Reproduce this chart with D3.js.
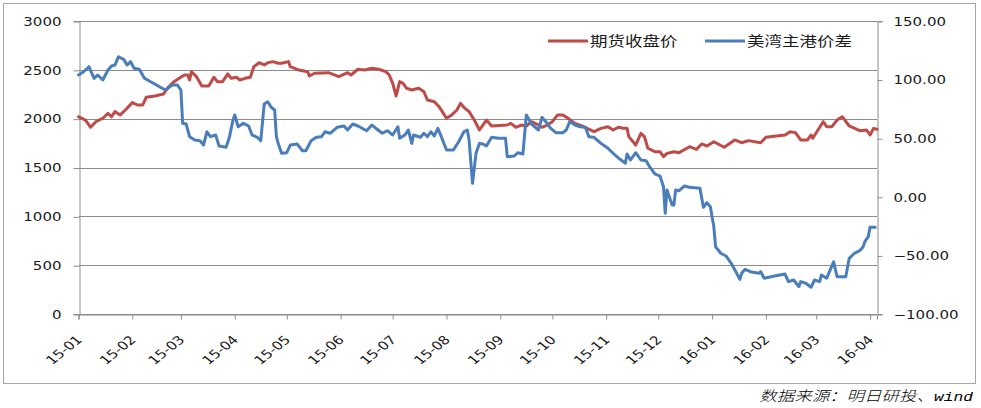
<!DOCTYPE html>
<html><head><meta charset="utf-8">
<script src="https://cdn.jsdelivr.net/npm/d3@7"></script>
<style>body{margin:0;background:#fff} svg{display:block}</style>
</head><body><svg id="c" width="981" height="408"></svg>
<script>
// ---- data ----
const seriesNames = ["期货收盘价", "美湾主港价差"];
const futuresDates = ["2015-01-01","2015-01-05","2015-01-08","2015-01-11","2015-01-15","2015-01-18","2015-01-20","2015-01-22","2015-01-25","2015-01-28","2015-02-01","2015-02-04","2015-02-07","2015-02-09","2015-02-14","2015-02-19","2015-02-22","2015-02-25","2015-02-28","2015-03-03","2015-03-05","2015-03-06","2015-03-07","2015-03-10","2015-03-13","2015-03-17","2015-03-20","2015-03-22","2015-03-25","2015-03-28","2015-03-30","2015-04-02","2015-04-04","2015-04-07","2015-04-10","2015-04-12","2015-04-15","2015-04-18","2015-04-20","2015-04-23","2015-04-26","2015-04-28","2015-05-02","2015-05-03","2015-05-08","2015-05-13","2015-05-14","2015-05-17","2015-05-25","2015-05-31","2015-06-05","2015-06-07","2015-06-11","2015-06-15","2015-06-19","2015-06-23","2015-06-27","2015-06-29","2015-07-01","2015-07-03","2015-07-05","2015-07-07","2015-07-09","2015-07-12","2015-07-16","2015-07-19","2015-07-21","2015-07-25","2015-07-28","2015-08-01","2015-08-04","2015-08-07","2015-08-09","2015-08-11","2015-08-14","2015-08-17","2015-08-20","2015-08-24","2015-08-27","2015-09-05","2015-09-07","2015-09-10","2015-09-13","2015-09-16","2015-09-19","2015-09-22","2015-09-25","2015-09-28","2015-10-01","2015-10-04","2015-10-07","2015-10-10","2015-10-14","2015-10-18","2015-10-21","2015-10-25","2015-10-29","2015-11-02","2015-11-05","2015-11-08","2015-11-11","2015-11-13","2015-11-14","2015-11-18","2015-11-21","2015-11-23","2015-11-25","2015-11-29","2015-12-02","2015-12-04","2015-12-06","2015-12-10","2015-12-13","2015-12-19","2015-12-23","2015-12-26","2015-12-29","2016-01-02","2016-01-08","2016-01-14","2016-01-18","2016-01-22","2016-01-29","2016-02-01","2016-02-12","2016-02-15","2016-02-18","2016-02-21","2016-02-25","2016-02-27","2016-02-28","2016-03-02","2016-03-05","2016-03-07","2016-03-10","2016-03-13","2016-03-16","2016-03-20","2016-03-26","2016-03-30","2016-04-01","2016-04-03","2016-04-05"];
const futuresValues = [2020,1986,1912,1969,2004,2055,2020,2072,2038,2089,2164,2140,2140,2219,2232,2253,2327,2379,2413,2447,2447,2396,2481,2430,2335,2335,2424,2379,2379,2458,2413,2424,2396,2413,2424,2532,2573,2550,2573,2584,2567,2567,2584,2532,2498,2481,2437,2465,2471,2430,2471,2447,2506,2498,2516,2506,2481,2447,2362,2232,2379,2362,2311,2294,2311,2276,2191,2174,2116,2004,2038,2089,2157,2116,2072,1986,1884,1986,1925,1935,1952,1912,1935,1925,1969,1945,1912,1935,1969,2038,2038,2004,1952,1925,1901,1867,1901,1918,1884,1912,1901,1901,1816,1730,1850,1816,1697,1662,1662,1611,1645,1662,1652,1713,1686,1741,1720,1764,1707,1782,1754,1775,1754,1809,1833,1867,1857,1782,1782,1833,1799,1884,1969,1918,1918,1986,2020,1925,1877,1884,1833,1901,1891];

const spreadDates = ["2015-01-01","2015-01-04","2015-01-07","2015-01-10","2015-01-12","2015-01-15","2015-01-18","2015-01-20","2015-01-22","2015-01-24","2015-01-27","2015-01-29","2015-01-31","2015-02-02","2015-02-05","2015-02-08","2015-02-20","2015-02-24","2015-02-27","2015-03-01","2015-03-02","2015-03-04","2015-03-06","2015-03-09","2015-03-12","2015-03-14","2015-03-16","2015-03-18","2015-03-21","2015-03-23","2015-03-27","2015-03-29","2015-03-31","2015-04-01","2015-04-03","2015-04-06","2015-04-09","2015-04-11","2015-04-14","2015-04-16","2015-04-18","2015-04-20","2015-04-22","2015-04-24","2015-04-25","2015-04-26","2015-04-28","2015-05-01","2015-05-03","2015-05-07","2015-05-10","2015-05-12","2015-05-15","2015-05-18","2015-05-21","2015-05-23","2015-05-26","2015-05-30","2015-06-03","2015-06-05","2015-06-08","2015-06-11","2015-06-16","2015-06-19","2015-06-22","2015-06-25","2015-06-28","2015-07-01","2015-07-04","2015-07-05","2015-07-08","2015-07-10","2015-07-12","2015-07-13","2015-07-17","2015-07-19","2015-07-21","2015-07-23","2015-07-25","2015-07-27","2015-07-29","2015-08-01","2015-08-05","2015-08-08","2015-08-11","2015-08-13","2015-08-14","2015-08-16","2015-08-18","2015-08-20","2015-08-22","2015-08-24","2015-08-27","2015-08-31","2015-09-04","2015-09-05","2015-09-09","2015-09-11","2015-09-14","2015-09-16","2015-09-19","2015-09-23","2015-09-25","2015-09-28","2015-09-30","2015-10-03","2015-10-07","2015-10-09","2015-10-11","2015-10-14","2015-10-17","2015-10-20","2015-10-22","2015-10-25","2015-10-29","2015-11-02","2015-11-06","2015-11-09","2015-11-12","2015-11-13","2015-11-15","2015-11-18","2015-11-21","2015-11-24","2015-11-26","2015-11-29","2015-12-02","2015-12-04","2015-12-05","2015-12-06","2015-12-09","2015-12-10","2015-12-11","2015-12-13","2015-12-16","2015-12-19","2015-12-25","2015-12-27","2015-12-29","2015-12-31","2016-01-02","2016-01-03","2016-01-06","2016-01-09","2016-01-12","2016-01-15","2016-01-17","2016-01-18","2016-01-20","2016-01-23","2016-01-28","2016-01-29","2016-01-31","2016-02-06","2016-02-12","2016-02-14","2016-02-17","2016-02-20","2016-02-21","2016-02-24","2016-02-27","2016-02-29","2016-03-03","2016-03-04","2016-03-07","2016-03-09","2016-03-11","2016-03-13","2016-03-18","2016-03-20","2016-03-23","2016-03-26","2016-03-28","2016-03-29","2016-03-31","2016-04-01","2016-04-04"];
const spreadValues = [103.9,106.7,111,101.1,103.9,99.7,108.2,111.6,112.4,119.5,117.3,112.4,115.3,109.6,108.8,101.1,91.1,95.4,95.4,91.1,62.7,62.1,51.3,48.5,47.9,44.2,55.5,51.3,52.7,43.3,42.2,51.3,65.5,69.8,59.8,62.7,60.4,52.7,50.8,47.9,79.2,81.1,76.4,74.1,51.3,45.6,37.1,37.6,44.2,45,39.3,39.3,47.9,50.8,51.3,55.5,54.2,59.3,60.4,57,62.1,60.4,56.4,61.3,57.6,54.2,56.4,52.7,59.8,49.9,52.7,57,45.6,52.7,50.8,54.2,51.3,55.5,51.9,58.4,51.3,39.9,39.9,47,55.5,57,48.5,11.5,37.1,45.6,45,43.3,50.8,49.9,49.9,34.2,34.8,37.6,36.5,69.8,62.1,57,67.8,62.7,58.4,54.7,54.7,57,64.1,61.3,59.8,59.3,51.3,50.8,45.6,41.4,35.7,32,28.6,36.5,31.4,37.6,31.4,30.8,25.7,19.5,17.7,8.6,-14.1,5.8,-7,-7,5.8,5.2,9.2,8.1,7.2,-9,-5,-8.5,-25.5,-42.6,-48.2,-50.5,-56.7,-64.8,-70.4,-65.3,-61.9,-63.9,-65.3,-63.9,-69.5,-67.6,-65.9,-72.4,-71,-76.7,-72.4,-73.8,-77.2,-71,-72.4,-66.7,-69.5,-62.5,-55.4,-68.2,-68.2,-52.5,-48.2,-46,-42.6,-38.3,-34,-26,-26];

const leftTicks = [0, 500, 1000, 1500, 2000, 2500, 3000];
const rightTicks = [-100, -50, 0, 50, 100, 150];
const monthTicks = ["2015-01-01","2015-02-01","2015-03-01","2015-04-01","2015-05-01","2015-06-01","2015-07-01","2015-08-01","2015-09-01","2015-10-01","2015-11-01","2015-12-01","2016-01-01","2016-02-01","2016-03-01","2016-04-01"];
const xDomain = ["2015-01-01", "2016-04-05"];
const sourceTextCJK = "数据来源：明日研投、";
const sourceTextLatin = "wind";

// ---- drawing ----
const parse = d3.timeParse("%Y-%m-%d");
const svg = d3.select("#c");
const L = 79, R = 877, T = 21, B = 314;
const SX = 1.25;
const gridColor = "#8c8c8c";
const red = "#BE4B48", blue = "#4A7EBB";

const x = d3.scaleTime().domain(xDomain.map(parse)).range([78.5, R]);
const yL = d3.scaleLinear().domain([0, 3000]).range([B, T]);
const yR = d3.scaleLinear().domain([-100, 150]).range([B, T]);

// outer frame
svg.append("rect").attr("x", 3.5).attr("y", 3.5).attr("width", 972).attr("height", 380)
  .attr("fill", "none").attr("stroke", "#a6a6a6").attr("stroke-width", 1);

// gridlines
svg.append("g").selectAll("line").data(leftTicks).join("line")
  .attr("x1", L).attr("x2", R)
  .attr("y1", d => Math.round(yL(d)) + 0.5).attr("y2", d => Math.round(yL(d)) + 0.5)
  .attr("stroke", gridColor).attr("stroke-width", 1);

const fontNum = "'DejaVu Sans', Verdana, sans-serif";

// left axis
const gl = svg.append("g").attr("transform", `translate(${L + 0.5},0)`)
  .call(d3.axisLeft(yL).tickValues(leftTicks).tickSize(6).tickFormat(d3.format("d")));
// right axis
const gr = svg.append("g").attr("transform", `translate(${R + 0.5},0)`)
  .call(d3.axisRight(yR).tickValues(rightTicks).tickSize(5).tickFormat(d3.format(".2f")));
// bottom axis
const gb = svg.append("g").attr("transform", `translate(0,${B + 0.5})`)
  .call(d3.axisBottom(x).tickValues(monthTicks.map(parse)).tickSize(5).tickFormat(d3.timeFormat("%y-%m")));

[gl, gr, gb].forEach(g => {
  g.select(".domain").attr("stroke", gridColor);
  g.selectAll(".tick line").attr("stroke", gridColor);
  g.selectAll("text").attr("fill", "#1a1a1a").style("font-family", fontNum).style("font-size", "12px");
});
gl.selectAll(".tick line").attr("transform", "translate(0,0.5)");
gr.selectAll(".tick line").attr("transform", "translate(0,0.5)");
gl.selectAll(".tick text").attr("x", null).attr("dy", "0.36em")
  .attr("transform", `translate(-18,0) scale(${SX},1)`).attr("text-anchor", "end");
gr.selectAll(".tick text").attr("x", null).attr("dy", "0.36em")
  .attr("transform", `translate(16,0) scale(${SX},1)`).attr("text-anchor", "start");
gb.selectAll(".tick text").attr("y", null).attr("dy", null)
  .attr("transform", `translate(4,26) scale(${SX},1) rotate(-45)`).attr("text-anchor", "end");

// lines
const plot = svg.append("g");
const futures = futuresDates.map((d, i) => ({ date: parse(d), v: futuresValues[i] }));
const spread = spreadDates.map((d, i) => ({ date: parse(d), v: spreadValues[i] }));
plot.append("path").datum(futures)
  .attr("d", d3.line().x(d => x(d.date)).y(d => yL(d.v)))
  .attr("fill", "none").attr("stroke", red).attr("stroke-width", 3)
  .attr("stroke-linejoin", "round").attr("stroke-linecap", "round");
plot.append("path").datum(spread)
  .attr("d", d3.line().x(d => x(d.date)).y(d => yR(d.v)))
  .attr("fill", "none").attr("stroke", blue).attr("stroke-width", 3)
  .attr("stroke-linejoin", "round").attr("stroke-linecap", "round");

// legend
const fontCJK = "'Noto Sans CJK SC', sans-serif";
const legendItems = [
  { name: seriesNames[0], color: red, x0: 548 },
  { name: seriesNames[1], color: blue, x0: 705 }
];
const lg = svg.append("g");
legendItems.forEach(it => {
  lg.append("line").attr("x1", it.x0).attr("x2", it.x0 + 40).attr("y1", 41).attr("y2", 41)
    .attr("stroke", it.color).attr("stroke-width", 3);
  lg.append("text").attr("transform", `translate(${it.x0 + 42},41) scale(${SX},1)`)
    .attr("dy", "0.36em").style("font-family", fontCJK).style("font-size", "14px")
    .attr("fill", "#1a1a1a").text(it.name);
});

// source
const src = svg.append("text").attr("transform", `translate(973,396) scale(${SX},1)`)
  .attr("dy", "0.36em").attr("text-anchor", "end")
  .style("font-family", fontCJK).style("font-size", "14px").style("font-style", "italic")
  .style("font-weight", "300").attr("fill", "#000");
src.append("tspan").text(sourceTextCJK);
src.append("tspan").style("font-family", "'Liberation Mono', monospace").style("font-size", "13px").text(sourceTextLatin);
</script></body></html>
